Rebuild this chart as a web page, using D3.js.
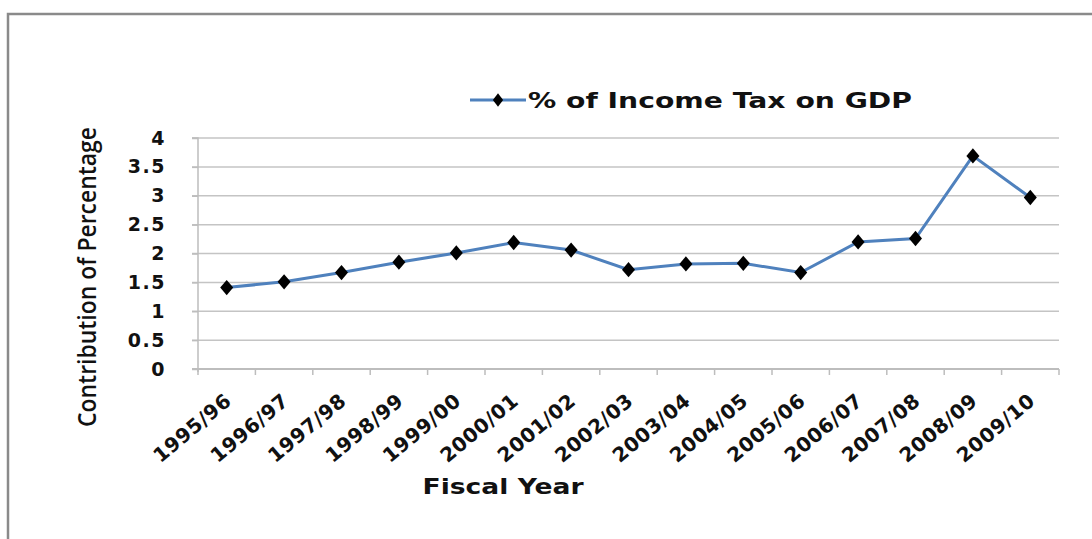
<!DOCTYPE html>
<html>
<head>
<meta charset="utf-8">
<script src="https://cdn.jsdelivr.net/npm/d3@7"></script>
<style>
  body { margin: 0; background: #fff; }
  svg { display: block; }
</style>
</head>
<body>
<svg id="chart"></svg>
<script>
const years = ["1995/96", "1996/97", "1997/98", "1998/99", "1999/00", "2000/01", "2001/02", "2002/03",
               "2003/04", "2004/05", "2005/06", "2006/07", "2007/08", "2008/09", "2009/10"];
const taxShare = [1.41, 1.51, 1.67, 1.85, 2.01, 2.19, 2.06, 1.72, 1.82, 1.83, 1.67, 2.20, 2.26, 3.69, 2.97];
const yTicks = [0, 0.5, 1, 1.5, 2, 2.5, 3, 3.5, 4];
const seriesName = "% of Income Tax on GDP";

const W = 1092, H = 539;
const margin = { top: 138, right: 33, bottom: 170, left: 198 },
      width = W - margin.left - margin.right,
      height = H - margin.top - margin.bottom;

const svg = d3.select("#chart").attr("width", W).attr("height", H);

// outer frame (only top and left edges show in the picture)
svg.append("path")
    .attr("d", `M8,${H} V14 H${W}`)
    .attr("fill", "none")
    .attr("stroke", "#8a8a8a")
    .attr("stroke-width", 2.5);

const g = svg.append("g").attr("transform", `translate(${margin.left},${margin.top})`);

const x = d3.scaleBand().domain(years).range([0, width]);
const y = d3.scaleLinear().domain([0, 4]).range([height, 0]);

// gridlines
g.selectAll(".grid")
    .data(yTicks.filter(d => d > 0))
    .enter().append("line")
    .attr("x1", -6).attr("x2", width)
    .attr("y1", d => y(d)).attr("y2", d => y(d))
    .attr("stroke", "#c4c4c4")
    .attr("stroke-width", 1.5);

// y axis
const yAxis = g.append("g")
    .call(d3.axisLeft(y).tickValues(yTicks).tickSize(6).tickPadding(26).tickFormat(d => d));
yAxis.select(".domain").attr("stroke", "#bdbdbd").attr("stroke-width", 1.5).attr("d", `M-6,0H0V${height + 3}`);
yAxis.selectAll(".tick line").attr("stroke", "#bdbdbd").attr("stroke-width", 1.5);
yAxis.selectAll("text")
    .style("font-family", "'DejaVu Sans', sans-serif")
    .style("font-weight", "bold")
    .style("font-size", "19px")
    .style("letter-spacing", "1.5px")
    .attr("fill", "#111");

// x axis with ticks at category boundaries
const xAxis = g.append("g").attr("transform", `translate(0,${height})`);
xAxis.append("line")
    .attr("x1", -6).attr("x2", width)
    .attr("stroke", "#bdbdbd").attr("stroke-width", 2);
xAxis.selectAll(".xtick")
    .data(years.concat(["end"]))
    .enter().append("line")
    .attr("x1", (d, i) => i * x.step()).attr("x2", (d, i) => i * x.step())
    .attr("y1", 0).attr("y2", 6)
    .attr("stroke", "#bdbdbd").attr("stroke-width", 1.5);

xAxis.selectAll(".xlabel")
    .data(years)
    .enter().append("text")
    .attr("text-anchor", "end")
    .attr("transform", d => `translate(${x(d) + x.bandwidth() / 2 + 6},${34}) rotate(-40)`)
    .style("font-family", "'DejaVu Sans', sans-serif")
    .style("font-weight", "bold")
    .style("font-size", "20px")
    .style("letter-spacing", "0.5px")
    .attr("fill", "#111")
    .text(d => d);

// axis titles
svg.append("text")
    .attr("x", 503).attr("y", 494)
    .attr("text-anchor", "middle")
    .attr("textLength", 161).attr("lengthAdjust", "spacingAndGlyphs")
    .style("font-family", "'DejaVu Sans', sans-serif")
    .style("font-weight", "bold")
    .style("font-size", "22px")
    .attr("fill", "#111")
    .text("Fiscal Year");

svg.append("text")
    .attr("transform", "translate(96,277) rotate(-90)")
    .attr("text-anchor", "middle")
    .attr("textLength", 300).attr("lengthAdjust", "spacingAndGlyphs")
    .style("font-family", "'Open Sans', sans-serif")
    .style("font-weight", "600")
    .style("font-size", "25px")
    .attr("fill", "#111")
    .text("Contribution of Percentage");

// series line
const line = d3.line()
    .x((d, i) => x(years[i]) + x.bandwidth() / 2)
    .y(d => y(d));

g.append("path")
    .datum(taxShare)
    .attr("fill", "none")
    .attr("stroke", "#4f81bd")
    .attr("stroke-width", 3)
    .attr("d", line);

const diamond = d3.symbol().type(d3.symbolDiamond).size(75);

g.selectAll(".marker")
    .data(taxShare)
    .enter().append("path")
    .attr("d", diamond)
    .attr("transform", (d, i) => `translate(${x(years[i]) + x.bandwidth() / 2},${y(d)}) scale(1.4,0.95)`)
    .attr("fill", "#000");

// legend
const legend = svg.append("g").attr("transform", "translate(470,100)");
legend.append("line")
    .attr("x1", 0).attr("x2", 56)
    .attr("stroke", "#4f81bd").attr("stroke-width", 3);
legend.append("path")
    .attr("d", diamond)
    .attr("transform", "translate(28,0) scale(1.1,0.85)")
    .attr("fill", "#000");
legend.append("text")
    .attr("x", 58).attr("y", 8)
    .attr("textLength", 384).attr("lengthAdjust", "spacingAndGlyphs")
    .style("font-family", "'DejaVu Sans', sans-serif")
    .style("font-weight", "bold")
    .style("font-size", "22px")
    .attr("fill", "#111")
    .text(seriesName);
</script>
</body>
</html>
